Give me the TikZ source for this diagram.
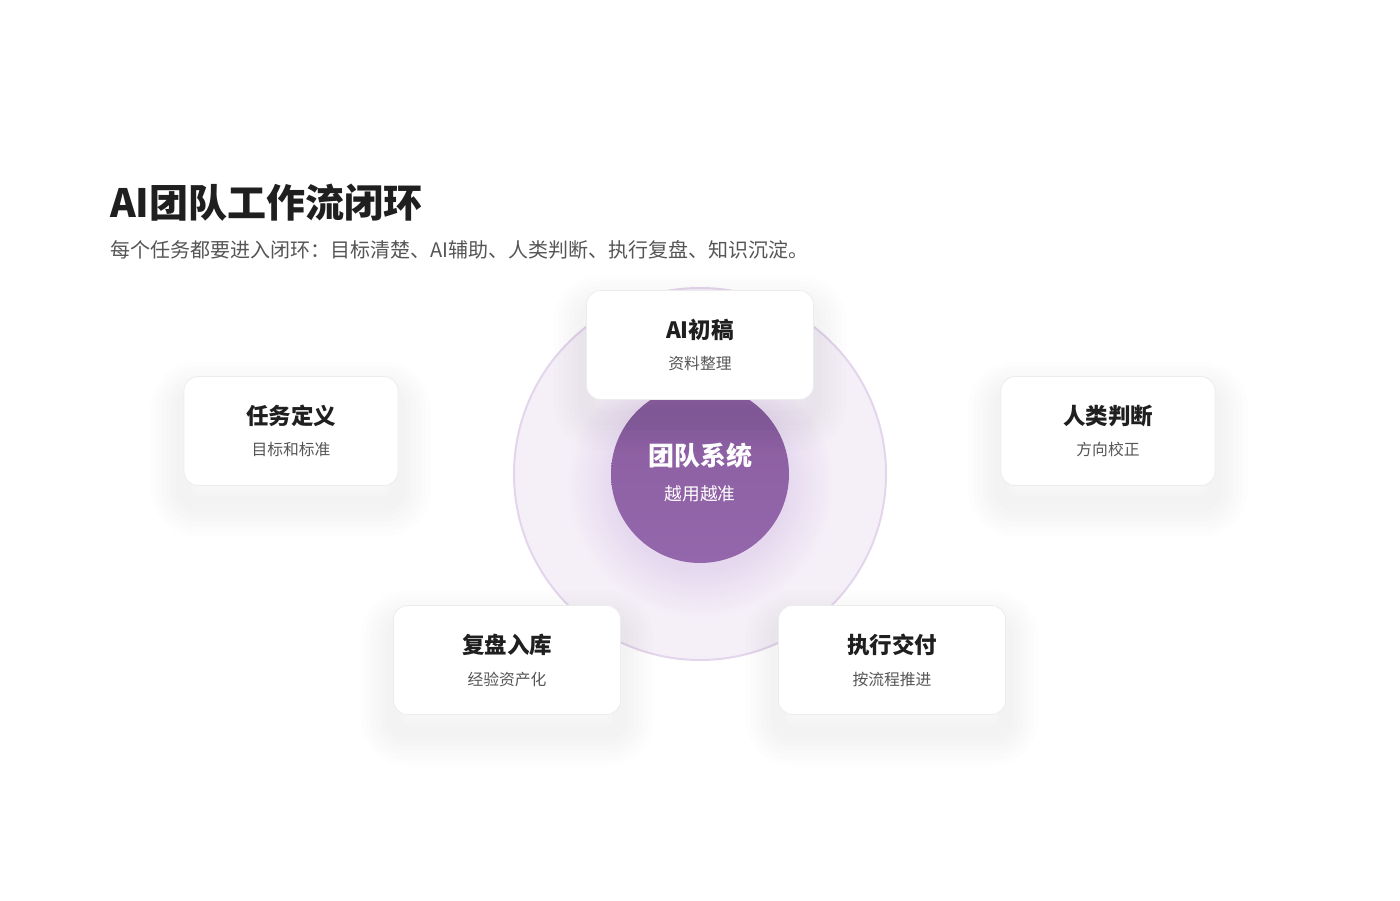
\documentclass[tikz,border=0pt]{standalone}
\usepackage{fontspec}
\setmainfont{Noto Sans CJK SC}
\definecolor{ink}{HTML}{1F1F1F}
\definecolor{muted}{HTML}{555555}
\definecolor{ringfill}{HTML}{F5F0F8}
\definecolor{ringline}{HTML}{E3D5EC}
\definecolor{hubtop}{HTML}{8A5C9F}
\definecolor{hubbot}{HTML}{9466AB}
\definecolor{halomid}{HTML}{E6D9EF}
\definecolor{cardline}{HTML}{ECECEC}
\pgfdeclareradialshading{hubhalo}{\pgfpoint{0bp}{0bp}}{color(0bp)=(halomid); color(16bp)=(halomid); color(25bp)=(ringfill); color(50bp)=(ringfill)}
\tikzset{
  shadestep/.style={preaction={draw=black, draw opacity=0.008, line width=#1, transform canvas={yshift=-18pt}}},
  card/.style={draw=cardline, line width=0.8pt, fill=white, rounded corners=14pt,
    minimum height=109pt, inner sep=0pt,
    shadestep=66pt, shadestep=56pt, shadestep=46pt, shadestep=36pt, shadestep=26pt, shadestep=16pt},
  cardtitle/.style={text=ink, font=\bfseries\fontsize{22.5}{26}\selectfont, inner sep=0pt},
  cardsub/.style={text=muted, font=\fontsize{15.8}{18}\selectfont, inner sep=0pt}
}
\begin{document}
\begin{tikzpicture}[x=1pt,y=-1pt]
    \useasboundingbox (0,0) rectangle (1400,900);
    % title
    \node [anchor=base west, inner sep=0pt, text=ink, font=\bfseries\fontsize{39}{46}\selectfont] (head) at (110,217) {AI团队工作流闭环};
    \node [anchor=base west, inner sep=0pt, text=muted, font=\fontsize{20}{24}\selectfont] (lead) at (110,257) {每个任务都要进入闭环：目标清楚、AI辅助、人类判断、执行复盘、知识沉淀。};
    % ring and hub
    \node [circle, draw=ringline, line width=2pt, fill=ringfill, minimum size=372pt, inner sep=0pt] (ring) at (700,474) {};
    \node [circle, shading=hubhalo, minimum size=270pt, inner sep=0pt] (halo) at (700,484) {};
    \node [circle, shading=axis, top color=hubtop, bottom color=hubbot, minimum size=178pt, inner sep=0pt] (hub) at (700,474) {};
    \node [text=white, font=\bfseries\fontsize{26}{30}\selectfont, inner sep=0pt] (hub-t) at (700,456) {团队系统};
    \node [text=white, font=\fontsize{17.7}{20}\selectfont, inner sep=0pt] (hub-s) at (700,494) {越用越准};
    % cards
    \node [card, minimum width=227pt] (draft) at (700,345) {};
    \node [cardtitle] (draft-t) at (700,330) {AI初稿};
    \node [cardsub] (draft-s) at (700,364) {资料整理};
    \node [card, minimum width=214pt] (task) at (291,431) {};
    \node [cardtitle] (task-t) at (291,416) {任务定义};
    \node [cardsub] (task-s) at (291,449) {目标和标准};
    \node [card, minimum width=214pt] (judge) at (1108,431) {};
    \node [cardtitle] (judge-t) at (1108,416) {人类判断};
    \node [cardsub] (judge-s) at (1108,449) {方向校正};
    \node [card, minimum width=227pt] (review) at (507,660) {};
    \node [cardtitle] (review-t) at (507,645) {复盘入库};
    \node [cardsub] (review-s) at (507,679) {经验资产化};
    \node [card, minimum width=227pt] (deliver) at (892,660) {};
    \node [cardtitle] (deliver-t) at (892,645) {执行交付};
    \node [cardsub] (deliver-s) at (892,679) {按流程推进};
\end{tikzpicture}
\end{document}
